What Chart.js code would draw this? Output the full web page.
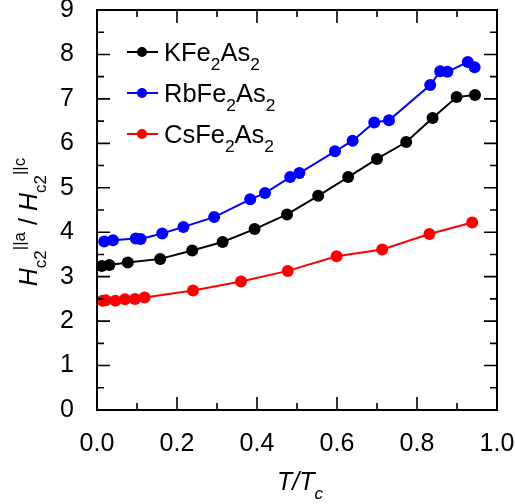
<!DOCTYPE html>
<html>
<head>
<meta charset="utf-8">
<script src="https://cdn.jsdelivr.net/npm/chart.js@4"></script>
<style>
  html, body { margin: 0; padding: 0; background: #fff; }
  #wrap { width: 515px; height: 504px; }
</style>
</head>
<body>
<div id="wrap"><canvas id="c" width="515" height="504"></canvas></div>
<script>
// T/Tc and Hc2 anisotropy
const kT = [0.012, 0.031, 0.077, 0.158, 0.238, 0.314, 0.394, 0.475, 0.553, 0.628, 0.700, 0.773, 0.839, 0.899, 0.945];
const kH = [3.24, 3.26, 3.32, 3.40, 3.59, 3.78, 4.07, 4.40, 4.82, 5.24, 5.65, 6.03, 6.57, 7.04, 7.09];

const rbT = [0.018, 0.040, 0.097, 0.109, 0.163, 0.216, 0.293, 0.383, 0.420, 0.483, 0.506, 0.595, 0.639, 0.693, 0.730, 0.833, 0.858, 0.876, 0.927, 0.944];
const rbH = [3.79, 3.82, 3.86, 3.85, 3.97, 4.12, 4.34, 4.74, 4.88, 5.24, 5.33, 5.82, 6.06, 6.47, 6.52, 7.31, 7.62, 7.61, 7.83, 7.71];

const csT = [0.014, 0.022, 0.046, 0.070, 0.095, 0.119, 0.240, 0.360, 0.477, 0.599, 0.713, 0.831, 0.938];
const csH = [2.46, 2.47, 2.46, 2.49, 2.50, 2.53, 2.69, 2.89, 3.13, 3.46, 3.61, 3.96, 4.22];

const xTicks = [0, 0.2, 0.4, 0.6, 0.8, 1.0];
const yTicks = [0, 1, 2, 3, 4, 5, 6, 7, 8, 9];

const seriesNames = ["K", "Rb", "Cs"];
const seriesColors = ["#000000", "#0000ff", "#ff0000"];

const FONT = "'Liberation Sans', Arial, Helvetica, sans-serif";

function pts(xs, ys) {
    return xs.map((x, i) => ({ x: x, y: ys[i] }));
}

// draw text pieces one after the other, kind = n / sub / sup
function drawPieces(ctx, pieces, x, y, size) {
    let cx = x;
    pieces.forEach((p) => {
        const sz = p.kind === "n" ? size : size * 0.68;
        ctx.font = (p.it ? "italic " : "") + sz + "px " + FONT;
        let dy = 0;
        if (p.kind === "sub") dy = size * 0.34;
        if (p.kind === "sup") dy = -size * 0.5;
        ctx.fillText(p.t, cx, y + dy);
        cx += ctx.measureText(p.t).width;
    });
    return cx - x;
}

function measurePieces(ctx, pieces, size) {
    let w = 0;
    pieces.forEach((p) => {
        const sz = p.kind === "n" ? size : size * 0.68;
        ctx.font = (p.it ? "italic " : "") + sz + "px " + FONT;
        w += ctx.measureText(p.t).width;
    });
    return w;
}

const framePlugin = {
    id: "frame",
    afterDraw(chart) {
        const ctx = chart.ctx;
        const a = chart.chartArea;
        const xs = chart.scales.x;
        const ys = chart.scales.y;
        ctx.save();
        ctx.strokeStyle = "#000";
        ctx.lineWidth = 2;
        ctx.strokeRect(a.left, a.top, a.right - a.left, a.bottom - a.top);

        // inner ticks
        ctx.lineWidth = 1.6;
        ctx.beginPath();
        for (let v = 0; v <= 10; v++) {
            const px = xs.getPixelForValue(v / 10);
            const len = v % 2 === 0 ? 13 : 7;
            ctx.moveTo(px, a.bottom); ctx.lineTo(px, a.bottom - len);
            ctx.moveTo(px, a.top); ctx.lineTo(px, a.top + len);
        }
        for (let v = 0; v <= 18; v++) {
            const py = ys.getPixelForValue(v / 2);
            const len = v % 2 === 0 ? 13 : 7;
            ctx.moveTo(a.left, py); ctx.lineTo(a.left + len, py);
            ctx.moveTo(a.right, py); ctx.lineTo(a.right - len, py);
        }
        ctx.stroke();

        // legend
        const legendText = [
            [{ t: "KFe", kind: "n" }, { t: "2", kind: "sub" }, { t: "As", kind: "n" }, { t: "2", kind: "sub" }],
            [{ t: "RbFe", kind: "n" }, { t: "2", kind: "sub" }, { t: "As", kind: "n" }, { t: "2", kind: "sub" }],
            [{ t: "CsFe", kind: "n" }, { t: "2", kind: "sub" }, { t: "As", kind: "n" }, { t: "2", kind: "sub" }]
        ];
        ctx.textAlign = "left";
        ctx.textBaseline = "alphabetic";
        legendText.forEach((pieces, i) => {
            const yy = 52 + i * 41;
            ctx.strokeStyle = seriesColors[i];
            ctx.lineWidth = 2;
            ctx.beginPath();
            ctx.moveTo(127, yy); ctx.lineTo(158, yy);
            ctx.stroke();
            ctx.fillStyle = seriesColors[i];
            ctx.beginPath();
            ctx.arc(142, yy, 5, 0, Math.PI * 2);
            ctx.fill();
            ctx.fillStyle = "#000";
            drawPieces(ctx, pieces, 164, yy + 9, 25.5);
        });

        // x title
        const xt = [{ t: "T/T", kind: "n", it: true }, { t: "c", kind: "sub", it: true }];
        const xw = measurePieces(ctx, xt, 25);
        ctx.fillStyle = "#000";
        drawPieces(ctx, xt, (a.left + a.right) / 2 - xw / 2 + 3, 490, 25);

        // y title (rotated)
        const yt = [
            { t: "H", kind: "n", it: true }, { t: "c2", kind: "sub" }, { t: "||a", kind: "sup" },
            { t: " / ", kind: "n" },
            { t: "H", kind: "n", it: true }, { t: "c2", kind: "sub" }, { t: "||c", kind: "sup" }
        ];
        const yw = measurePieces(ctx, yt, 25);
        ctx.translate(37, 222);
        ctx.rotate(-Math.PI / 2);
        drawPieces(ctx, yt, -yw / 2, 0, 25);
        ctx.restore();
    }
};

const datasets = [pts(kT, kH), pts(rbT, rbH), pts(csT, csH)].map((d, i) => ({
    label: seriesNames[i],
    data: d,
    showLine: true,
    borderColor: seriesColors[i],
    backgroundColor: seriesColors[i],
    borderWidth: 2,
    pointRadius: 6,
    pointHoverRadius: 6,
    pointBorderWidth: 0,
    tension: 0
}));

new Chart(document.getElementById("c").getContext("2d"), {
    type: "scatter",
    data: { datasets: datasets },
    options: {
        responsive: false,
        animation: false,
        devicePixelRatio: 1,
        layout: { padding: { left: 0, top: 10, right: 18, bottom: 0 } },
        plugins: {
            legend: { display: false },
            tooltip: { enabled: false }
        },
        scales: {
            x: {
                type: "linear",
                min: 0,
                max: 1,
                grid: { display: false },
                border: { display: false },
                afterFit: (s) => { s.height = 94; s.paddingLeft = 0; s.paddingRight = 0; },
                afterBuildTicks: (s) => { s.ticks = xTicks.map((v) => ({ value: v })); },
                ticks: {
                    color: "#000",
                    padding: 11,
                    maxRotation: 0,
                    autoSkip: false,
                    font: { family: FONT, size: 25 },
                    callback: (v) => v.toFixed(1)
                }
            },
            y: {
                type: "linear",
                min: 0,
                max: 9,
                grid: { display: false },
                border: { display: false },
                afterFit: (s) => { s.width = 97; s.paddingTop = 0; s.paddingBottom = 0; },
                afterBuildTicks: (s) => { s.ticks = yTicks.map((v) => ({ value: v })); },
                ticks: {
                    color: "#000",
                    padding: 15,
                    autoSkip: false,
                    font: { family: FONT, size: 25 },
                    callback: (v) => String(v)
                }
            }
        }
    },
    plugins: [framePlugin]
});
</script>
</body>
</html>
